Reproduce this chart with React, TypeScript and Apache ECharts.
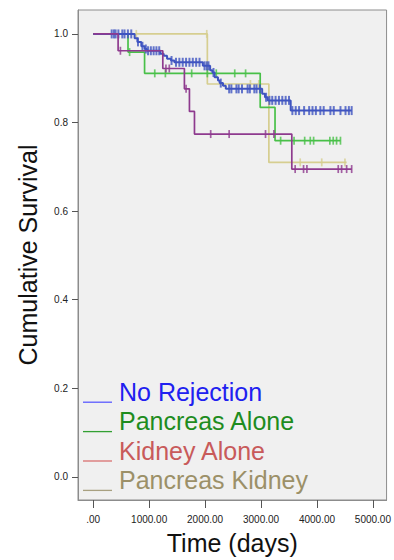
import React, { useEffect, useRef } from "react";
import * as echarts from "echarts";

// ---- Data ----
const seriesNames = ["No Rejection", "Pancreas Alone", "Kidney Alone", "Pancreas Kidney"];

// step points [time (days), cumulative survival]
const noRejectionSteps: [number, number][] = [
  [0, 1.0], [740, 0.99], [790, 0.982], [860, 0.972], [920, 0.966], [960, 0.962],
  [1200, 0.955], [1260, 0.951], [1320, 0.944], [1390, 0.94], [1450, 0.936],
  [1960, 0.928], [2090, 0.918], [2130, 0.913], [2170, 0.902], [2230, 0.895],
  [2260, 0.889], [2320, 0.883], [2370, 0.876], [3020, 0.865], [3070, 0.857],
  [3120, 0.85], [3530, 0.827],
];
const noRejectionEnd = 4620;
const noRejectionCensored = [
  330, 370, 400, 450, 520, 560, 620, 680, 800, 880, 940, 980, 1030, 1080, 1130, 1180,
  1400, 1480, 1540, 1600, 1660, 1720, 1780, 1840, 1900, 1990, 2030, 2060, 2150, 2280,
  2430, 2470, 2560, 2600, 2660, 2760, 2800, 2880, 2920, 2980,
  3090, 3150, 3200, 3260, 3320, 3380, 3440, 3500,
  3560, 3620, 3680, 3770, 3860, 3920, 3980, 4060, 4120, 4240, 4300, 4420, 4510, 4570, 4620,
];

const pancreasAloneSteps: [number, number][] = [
  [0, 1.0], [622, 0.959], [918, 0.911], [2985, 0.834], [3250, 0.759],
];
const pancreasAloneEnd = 4420;
const pancreasAloneCensored = [
  650, 1100, 1290, 1760, 2040, 2200, 2530, 2724,
  3350, 3590, 3780, 3880, 3940, 4230, 4290, 4350, 4420,
];

const kidneyAloneSteps: [number, number][] = [
  [0, 1.0], [445, 0.962], [1244, 0.922], [1630, 0.876], [1720, 0.825], [1810, 0.774], [3550, 0.695],
];
const kidneyAloneEnd = 4620;
const kidneyAloneCensored = [
  486, 1300, 1360, 1660, 2100, 2430, 3080, 3230, 3610, 3760, 3820, 4380, 4440, 4530, 4620,
];

const pancreasKidneySteps: [number, number][] = [
  [0, 1.0], [2040, 0.887], [3140, 0.71],
];
const pancreasKidneyEnd = 4530;
const pancreasKidneyCensored = [770, 2030, 2810, 2960, 3700, 4085, 4500];

const xTickValues = [0, 1000, 2000, 3000, 4000, 5000];
const xTickLabels = [".00", "1000.00", "2000.00", "3000.00", "4000.00", "5000.00"];
const yTickValues = [0, 0.2, 0.4, 0.6, 0.8, 1.0];
const yTickLabels = ["0.0", "0.2", "0.4", "0.6", "0.8", "1.0"];

const curveColors = ["#3f54c0", "#48c048", "#8e3a8e", "#d6ce90"];
const legendLineColors = ["#5a5aff", "#33a033", "#d87070", "#a8a080"];
const legendTextColors = ["#2020f0", "#1e8c1e", "#c85a5a", "#9c9068"];

// ---- helpers ----
function survAt(steps: [number, number][], t: number): number {
  let s = steps[0][1];
  for (const [time, v] of steps) {
    if (time <= t) s = v;
  }
  return s;
}
function lineData(steps: [number, number][], end: number): [number, number][] {
  return [...steps, [end, steps[steps.length - 1][1]]];
}
function censorData(steps: [number, number][], cens: number[]): [number, number][] {
  return cens.map((t) => [t, survAt(steps, t)]);
}

const groups = [
  { steps: noRejectionSteps, end: noRejectionEnd, cens: noRejectionCensored },
  { steps: pancreasAloneSteps, end: pancreasAloneEnd, cens: pancreasAloneCensored },
  { steps: kidneyAloneSteps, end: kidneyAloneEnd, cens: kidneyAloneCensored },
  { steps: pancreasKidneySteps, end: pancreasKidneyEnd, cens: pancreasKidneyCensored },
];

// draw order (bottom → top): Pancreas Kidney, Pancreas Alone, No Rejection, Kidney Alone
const drawOrder = [3, 1, 0, 2];

export default function App() {
  const ref = useRef<HTMLDivElement>(null);
  useEffect(() => {
    if (!ref.current) return;
    const chart = echarts.init(ref.current, undefined, { renderer: "svg" });
    const series: any[] = [];
    drawOrder.forEach((gi, k) => {
      const g = groups[gi];
      series.push({
        name: seriesNames[gi],
        type: "line",
        step: "end",
        data: lineData(g.steps, g.end),
        showSymbol: false,
        symbol: "none",
        lineStyle: { color: curveColors[gi], width: gi === 0 ? 2 : 1.7 },
        z: 2 + k,
        silent: true,
      });
      series.push({
        name: seriesNames[gi] + " censored",
        type: "scatter",
        data: censorData(g.steps, g.cens),
        symbol: "rect",
        symbolSize: gi === 0 ? [2, 9] : [1.7, 8],
        itemStyle: { color: curveColors[gi] },
        z: 2 + k,
        silent: true,
      });
    });

    const graphics: any[] = [];
    seriesNames.forEach((name, i) => {
      const cy = 391.7 + 29.4 * i;
      graphics.push({
        type: "line",
        shape: { x1: 83, y1: cy + 10.5, x2: 112, y2: cy + 10.5 },
        style: { stroke: legendLineColors[i], lineWidth: 1.3 },
        z: 100,
      });
      graphics.push({
        type: "text",
        x: 119,
        y: cy,
        style: {
          text: name,
          fill: legendTextColors[i],
          font: '25px "Liberation Sans", Arial, sans-serif',
          verticalAlign: "middle",
          align: "left",
        },
        z: 100,
      });
    });

    chart.setOption({
      animation: false,
      backgroundColor: "#ffffff",
      textStyle: { fontFamily: '"Liberation Sans", Arial, sans-serif' },
      grid: {
        left: 78,
        top: 10,
        width: 310,
        height: 491,
        show: true,
        backgroundColor: "#f0f0f0",
        borderColor: "#8c8c8c",
        borderWidth: 1,
      },
      xAxis: {
        type: "value",
        min: -272,
        max: 5244,
        axisLine: { show: true, onZero: false, lineStyle: { color: "#8c8c8c" } },
        axisTick: { show: true, length: 8, customValues: xTickValues, lineStyle: { color: "#555" } },
        axisLabel: {
          customValues: xTickValues,
          margin: 14,
          fontSize: 10,
          color: "#222",
          formatter: (v: number) => {
            const i = xTickValues.findIndex((t) => Math.abs(t - v) < 1e-6);
            return i >= 0 ? xTickLabels[i] : "";
          },
        },
        splitLine: { show: false },
        name: "Time (days)",
        nameLocation: "middle",
        nameGap: 30,
        nameTextStyle: { fontSize: 25, color: "#111" },
      },
      yAxis: {
        type: "value",
        min: -0.052,
        max: 1.054,
        axisLine: { show: true, onZero: false, lineStyle: { color: "#8c8c8c" } },
        axisTick: { show: true, length: 6, customValues: yTickValues, lineStyle: { color: "#555" } },
        axisLabel: {
          customValues: yTickValues,
          margin: 10,
          fontSize: 10,
          color: "#222",
          formatter: (v: number) => {
            const i = yTickValues.findIndex((t) => Math.abs(t - v) < 1e-6);
            return i >= 0 ? yTickLabels[i] : "";
          },
        },
        splitLine: { show: false },
        name: "Cumulative Survival",
        nameLocation: "middle",
        nameRotate: 90,
        nameGap: 38,
        nameTextStyle: { fontSize: 25, color: "#111" },
      },
      series,
      graphic: graphics,
    });
    return () => chart.dispose();
  }, []);
  return <div ref={ref} style={{ width: 394, height: 560, position: "absolute", left: 0, top: 0 }} />;
}
